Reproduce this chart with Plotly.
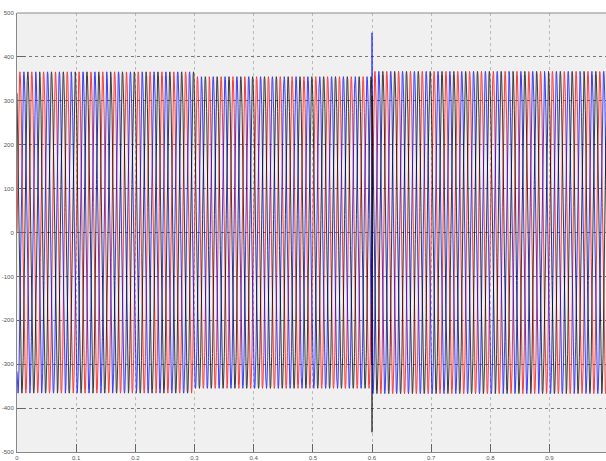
import numpy as np
import plotly.graph_objects as go

# ---- values ----
freq_hz = 50.0
seg_start = [0.0, 0.3, 0.6]          # s
seg_end = [0.3, 0.6, 1.0]            # s
seg_amp = [366.0, 355.0, 367.0]      # peak voltage in each interval

phase_names = ["Va", "Vb", "Vc"]
phase_deg = [0.0, -120.0, 120.0]
phase_colors = ["#ff0000", "#0000ff", "#000000"]

# transient at t = 0.6 s (blue overshoot up, black overshoot down)
spike_t = [0.6000, 0.6004, 0.6008, 0.6012]
spike_blue = [455.0, 330.0, 440.0, 360.0]
spike_black = [-455.0, -330.0, -440.0, -360.0]

x_ticks = [0, 0.1, 0.2, 0.3, 0.4, 0.5, 0.6, 0.7, 0.8, 0.9]
x_tick_text = ["0", "0.1", "0.2", "0.3", "0.4", "0.5", "0.6", "0.7", "0.8", "0.9"]
y_ticks = [-500, -400, -300, -200, -100, 0, 100, 200, 300, 400, 500]
y_tick_text = ["-500", "-400", "-300", "-200", "-100", "0", "100", "200", "300", "400", "500"]

# ---- build waveforms from the segment amplitudes ----
dt = 1e-4
t = np.arange(0.0, 1.0 + dt / 2, dt)
amp = np.zeros_like(t)
for s, e, a in zip(seg_start, seg_end, seg_amp):
    amp[(t >= s) & (t <= e)] = a

waves = []
for ph in phase_deg:
    waves.append(amp * np.sin(2 * np.pi * freq_hz * t + np.deg2rad(ph)))

idx = [int(round(st / dt)) for st in spike_t]
for i, vb, vk in zip(idx, spike_blue, spike_black):
    waves[1][i] = vb
    waves[2][i] = vk

fig = go.Figure()
for name, w, c in zip(phase_names, waves, phase_colors):
    fig.add_trace(go.Scatter(x=t, y=w, mode="lines", name=name,
                             line=dict(color=c, width=1), opacity=0.75))

axis_common = dict(
    showgrid=True, griddash="dot", gridwidth=1,
    showline=True, linecolor="#888888", linewidth=1, mirror=False,
    ticks="inside", ticklen=8, tickcolor="#666666",
    tickfont=dict(family="Liberation Sans Narrow, Liberation Sans", size=6, color="#555555"),
    zeroline=False, automargin=False,
)

fig.update_layout(
    width=606, height=461,
    margin=dict(l=17, r=0, t=13, b=9),
    paper_bgcolor="#ffffff",
    plot_bgcolor="#f0f0f0",
    showlegend=False,
)
fig.update_xaxes(range=[0, 0.9955], tickvals=x_ticks, ticktext=x_tick_text,
                 gridcolor="#bbbbbb", ticklabelstandoff=0, **axis_common)
fig.update_yaxes(range=[-500, 500], tickvals=y_ticks, ticktext=y_tick_text,
                 gridcolor="#777777", ticklabelstandoff=1, **axis_common)
# top frame line
fig.add_shape(type="line", xref="paper", yref="paper", x0=0, x1=1, y0=1, y1=1,
              line=dict(color="#888888", width=1))

fig.write_html("out.html", config={"displayModeBar": False},
               post_script="document.body.style.margin='0';")
